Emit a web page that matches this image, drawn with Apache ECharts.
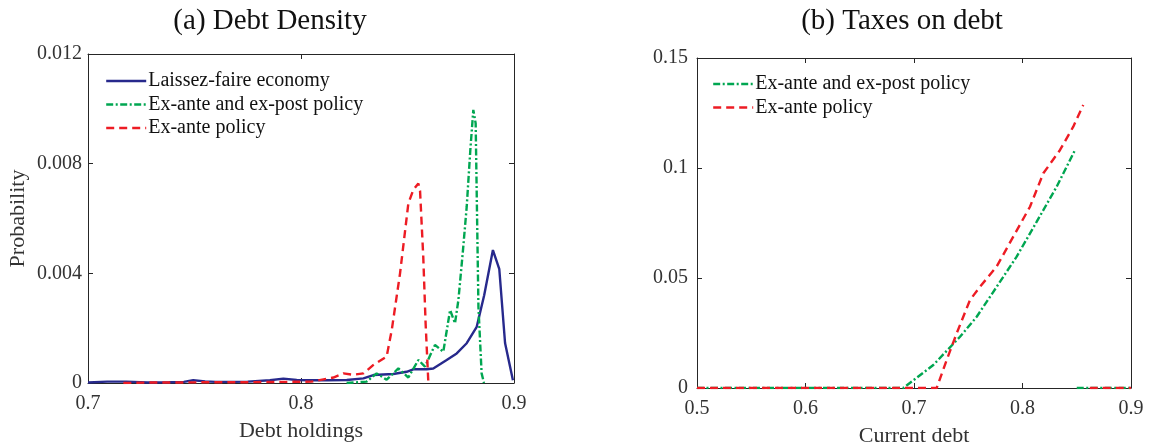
<!DOCTYPE html>
<html>
<head>
<meta charset="utf-8">
<script src="https://cdn.jsdelivr.net/npm/echarts@6/dist/echarts.min.js"></script>
<style>html,body{margin:0;padding:0;background:#fff;}#c{width:1149px;height:447px;}</style>
</head>
<body>
<div id="c"></div>
<script>
// ---- Data ----
const titles = ['(a) Debt Density', '(b) Taxes on debt'];
const seriesNames = ['Laissez-faire economy', 'Ex-ante and ex-post policy', 'Ex-ante policy'];

// Panel (a): debt density, [debt holdings, probability]
const densityLaissez = [
  [0.700,0.00002],[0.709,0.00005],[0.718,0.00005],[0.728,0.00002],[0.738,0.00003],[0.745,0.00004],[0.7494,0.0001],
  [0.755,0.00006],[0.760,0.00004],[0.768,0.00004],[0.775,0.00005],[0.7854,0.0001],[0.7917,0.00016],[0.798,0.00011],
  [0.8056,0.0001],[0.8126,0.0001],[0.8215,0.00011],[0.8293,0.00017],[0.834,0.00029],[0.8433,0.00033],[0.8496,0.00041],
  [0.8527,0.0005],[0.859,0.0005],[0.8621,0.00053],[0.8684,0.00084],[0.8731,0.00108],[0.8778,0.00145],[0.8825,0.00205],
  [0.8860,0.0032],[0.8901,0.00485],[0.8931,0.00415],[0.8958,0.00146],[0.8995,0.0001]
];
const densityExAnteExPost = [
  [0.8214,0.0],[0.8308,0.00005],[0.8355,0.00035],[0.8402,0.00012],[0.8457,0.00053],[0.8504,0.0002],[0.8551,0.00084],
  [0.8582,0.0006],[0.8629,0.00139],[0.8668,0.00114],[0.870,0.00266],[0.8723,0.00218],[0.8739,0.00303],[0.8760,0.0048],
  [0.8778,0.00643],[0.8795,0.0085],[0.8809,0.00996],[0.882,0.00947],[0.8833,0.00278],[0.8848,0.00035],[0.8859,0.0]
];
const densityExAnte = [
  [0.7166,0.0],[0.730,0.00002],[0.745,0.00002],[0.760,0.00003],[0.775,0.00003],[0.790,0.00004],[0.805,0.00005],
  [0.8152,0.0002],[0.8199,0.00035],[0.8246,0.0003],[0.8293,0.00035],[0.834,0.00066],[0.8402,0.00096],[0.8426,0.00193],
  [0.8465,0.004],[0.8504,0.00655],[0.8527,0.00704],[0.8551,0.00728],[0.8559,0.007],[0.8574,0.0046],[0.8585,0.00218],[0.8598,0.0]
];

// Panel (b): taxes on debt, [current debt, tax]
const taxExAnteExPost = [
  [0.50,0],[0.60,0],[0.6901,0],[0.7178,0.01045],[0.7424,0.0233],[0.7578,0.0324],[0.7762,0.046],[0.7946,0.0597],
  [0.8131,0.0756],[0.8315,0.0915],[0.8484,0.1082],[null,null],[0.850,0],[0.90,0]
];
const taxExAnte = [
  [0.50,0],[0.60,0],[0.7209,0],[0.7301,0.0127],[0.7393,0.0248],[0.7516,0.04],[0.7608,0.046],[0.7762,0.0552],
  [0.7915,0.0688],[0.8069,0.0824],[0.8192,0.0976],[0.8346,0.1082],[0.8468,0.1188],[0.856,0.1286],[null,null],[0.862,0],[0.90,0]
];

const leftX = {min:0.7, max:0.9, interval:0.1, name:'Debt holdings'};
const leftY = {min:0, max:0.012, interval:0.004, name:'Probability'};
const rightX = {min:0.5, max:0.9, interval:0.1, name:'Current debt'};
const rightY = {min:0, max:0.15, interval:0.05};

// ---- Styles ----
const FONT = 'Liberation Serif';
const AX = '#262626';
const TXT = '#333333';
const BLUE = '#27298c', GREEN = '#00a651', RED = '#ed1c24';
const dashDot = [7,2.5,2,2.5];
const dash = [8,5];

function lbl(v){ return v===0 ? '0' : String(+v.toFixed(4)); }

function mkX(ax, gi, pos, show){
  return {type:'value', gridIndex:gi, position:pos, min:ax.min, max:ax.max, interval:ax.interval,
    name: show ? ax.name : '', nameLocation:'middle', nameGap:37,
    nameTextStyle:{fontFamily:FONT, fontSize:22, color:TXT},
    axisLine:{show:true, onZero:false, lineStyle:{color:AX, width:1}},
    axisTick:{show:true, inside:true, length:5, lineStyle:{color:AX}},
    axisLabel:{show:show, fontFamily:FONT, fontSize:20, color:TXT, margin:11, formatter:lbl},
    splitLine:{show:false}};
}
function mkY(ax, gi, pos, show, margin){
  return {type:'value', gridIndex:gi, position:pos, min:ax.min, max:ax.max, interval:ax.interval,
    name: show && ax.name ? ax.name : '', nameLocation:'middle', nameGap:59, nameRotate:90,
    nameTextStyle:{fontFamily:FONT, fontSize:22, color:TXT},
    axisLine:{show:true, onZero:false, lineStyle:{color:AX, width:1}},
    axisTick:{show:true, inside:true, length:5, lineStyle:{color:AX}},
    axisLabel:{show:show, fontFamily:FONT, fontSize:20, color:TXT, margin:margin, formatter:lbl},
    splitLine:{show:false}};
}
function line(name, data, xi, yi, color, type){
  return {name:name, type:'line', data:data, xAxisIndex:xi, yAxisIndex:yi, showSymbol:false, symbol:'none',
    connectNulls:false, smooth:false, animation:false,
    lineStyle:{color:color, width:2.4, type:type}, itemStyle:{color:color}};
}
const legText = {fontFamily:FONT, fontSize:20, color:'#111', lineHeight:17, padding:[0,0,0,-3]};
const legHide = {opacity:0, borderWidth:0};
const legLine = {width:2.4};

const chart = echarts.init(document.getElementById('c'), null, {renderer:'canvas'});
chart.setOption({
  backgroundColor:'#fff',
  animation:false,
  title:[
    {text:titles[0], left:265, top:2, textAlign:'center', textStyle:{fontFamily:FONT, fontSize:29, fontWeight:'normal', color:'#111'}},
    {text:titles[1], left:897, top:2, textAlign:'center', textStyle:{fontFamily:FONT, fontSize:29, fontWeight:'normal', color:'#111'}}
  ],
  grid:[
    {left:88, right:635, top:54, bottom:64, show:false, containLabel:false, outerBoundsMode:'none'},
    {left:697, right:18, top:58, bottom:59, show:false, containLabel:false, outerBoundsMode:'none'}
  ],
  xAxis:[mkX(leftX,0,'bottom',true), mkX(leftX,0,'top',false), mkX(rightX,1,'bottom',true), mkX(rightX,1,'top',false)],
  yAxis:[mkY(leftY,0,'left',true,6), mkY(leftY,0,'right',false,6), mkY(rightY,1,'left',true,9), mkY(rightY,1,'right',false,6)],
  legend:[
    {orient:'vertical', left:100, top:66, itemWidth:40, itemHeight:14, itemGap:3.5,
     itemStyle:legHide, lineStyle:legLine, data:seriesNames, textStyle:legText},
    {orient:'vertical', left:707, top:69, itemWidth:40, itemHeight:14, itemGap:3.5,
     itemStyle:legHide, lineStyle:legLine, data:[seriesNames[1], seriesNames[2]], textStyle:legText}
  ],
  series:[
    line(seriesNames[0], densityLaissez, 0, 0, BLUE, 'solid'),
    line(seriesNames[1], densityExAnteExPost, 0, 0, GREEN, dashDot),
    line(seriesNames[2], densityExAnte, 0, 0, RED, dash),
    line(seriesNames[1], taxExAnteExPost, 2, 2, GREEN, dashDot),
    line(seriesNames[2], taxExAnte, 2, 2, RED, dash)
  ]
});
</script>
</body>
</html>
